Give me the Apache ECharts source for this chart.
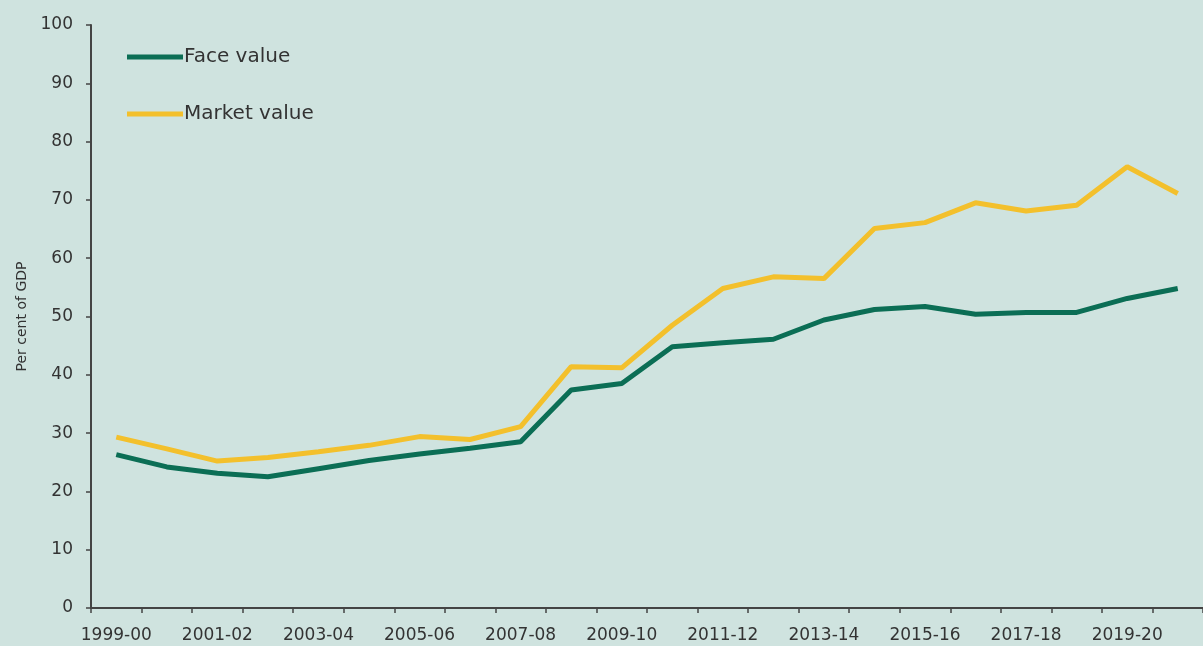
<!DOCTYPE html>
<html>
<head>
<meta charset="utf-8">
<script src="https://cdn.jsdelivr.net/npm/echarts@6/dist/echarts.min.js"></script>
<style>
html,body{margin:0;padding:0;background:#cfe3df;}
#main{width:1203px;height:646px;}
</style>
</head>
<body>
<div id="main"></div>
<script>
const categories = ['1999-00','2000-01','2001-02','2002-03','2003-04','2004-05','2005-06','2006-07','2007-08','2008-09','2009-10','2010-11','2011-12','2012-13','2013-14','2014-15','2015-16','2016-17','2017-18','2018-19','2019-20','2020-21'];
const faceValue = [26.3,24.2,23.1,22.5,23.9,25.3,26.4,27.4,28.5,37.4,38.5,44.8,45.5,46.1,49.4,51.2,51.7,50.4,50.7,50.7,53.1,54.8];
const marketValue = [29.3,27.3,25.2,25.8,26.8,27.9,29.4,28.9,31.1,41.4,41.2,48.5,54.8,56.8,56.5,65.1,66.1,69.5,68.1,69.1,75.7,71.1];
const yTicks = {min:0, max:100, interval:10};

const chart = echarts.init(document.getElementById('main'));
const font = '"DejaVu Sans", sans-serif';
chart.setOption({
  backgroundColor:'#cfe3df',
  animation:false,
  grid:{left:91, right:-1, top:25, bottom:38, containLabel:false},
  legend:{
    orient:'vertical', left:127, top:45, padding:0, itemWidth:56, itemHeight:5, itemGap:33,
    textStyle:{fontFamily:font, fontSize:20, color:'#333', padding:[0,0,0,-4], lineHeight:24},
    data:[{name:'Face value', icon:'rect'},{name:'Market value', icon:'rect'}]
  },
  xAxis:{
    type:'category', data:categories, boundaryGap:true,
    axisLine:{lineStyle:{color:'#444', width:2}},
    axisTick:{show:true, length:5, lineStyle:{color:'#444', width:1.5}, interval:0},
    axisLabel:{interval:1, fontFamily:font, fontSize:17, color:'#333', margin:19}
  },
  yAxis:{
    type:'value', min:yTicks.min, max:yTicks.max, interval:yTicks.interval,
    name:'Per cent of GDP', nameLocation:'middle', nameGap:62, nameRotate:90,
    nameTextStyle:{fontFamily:font, fontSize:14, color:'#333'},
    splitLine:{show:false},
    axisLine:{show:true, lineStyle:{color:'#444', width:2}},
    axisTick:{show:true, length:5, lineStyle:{color:'#444', width:1.5}},
    axisLabel:{fontFamily:font, fontSize:17, color:'#333', margin:18}
  },
  series:[
    {name:'Face value', type:'line', data:faceValue, symbol:'none', color:'#0b6e55', lineStyle:{width:5, color:'#0b6e55'}},
    {name:'Market value', type:'line', data:marketValue, symbol:'none', color:'#f3c02c', lineStyle:{width:5, color:'#f3c02c'}}
  ]
});
</script>
</body>
</html>
